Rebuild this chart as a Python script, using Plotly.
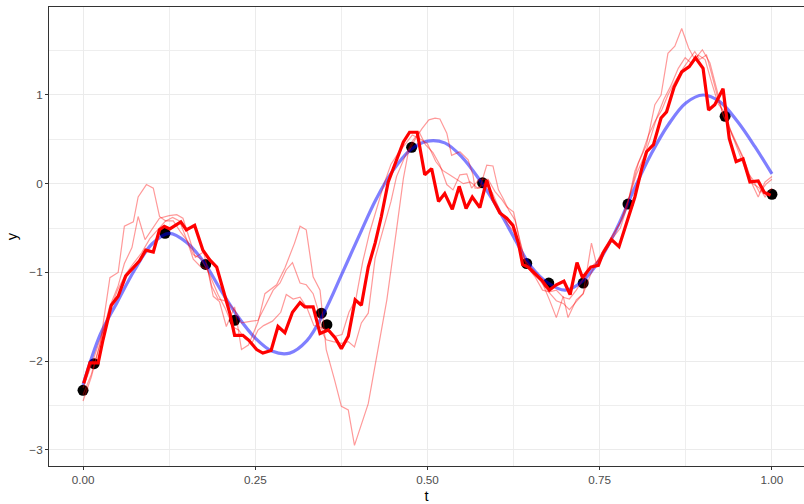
import plotly.graph_objects as go

# Underlying smooth function
t_true = [0.000, 0.025, 0.050, 0.075, 0.100, 0.125, 0.150, 0.175, 0.200, 0.225,
          0.250, 0.275, 0.300, 0.325, 0.350, 0.375, 0.400, 0.425, 0.450, 0.475,
          0.500, 0.525, 0.550, 0.575, 0.600, 0.625, 0.650, 0.675, 0.700, 0.725,
          0.750, 0.775, 0.800, 0.825, 0.850, 0.875, 0.900, 0.925, 0.950, 0.975, 1.000]
y_true = [-2.27, -1.70, -1.33, -0.97, -0.68, -0.56, -0.66, -0.88, -1.20, -1.50,
          -1.74, -1.89, -1.91, -1.77, -1.45, -1.03, -0.60, -0.18, 0.15, 0.38,
          0.48, 0.46, 0.30, 0.05, -0.25, -0.60, -0.93, -1.12, -1.20, -1.10,
          -0.86, -0.50, -0.06, 0.34, 0.67, 0.91, 1.00, 0.92, 0.70, 0.42, 0.11]

# Noisy observations
t_obs = [0.000, 0.016, 0.119, 0.178, 0.220, 0.346, 0.354, 0.477, 0.580, 0.644,
         0.676, 0.726, 0.791, 0.932, 1.000]
y_obs = [-2.33, -2.03, -0.56, -0.91, -1.54, -1.46, -1.59, 0.41, 0.01, -0.90,
         -1.12, -1.12, -0.23, 0.76, -0.12]

# Highlighted sample path
path_t = [0.001, 0.010, 0.022, 0.029, 0.041, 0.051, 0.062, 0.073, 0.082, 0.091,
          0.102, 0.111, 0.118, 0.126, 0.134, 0.142, 0.150, 0.162, 0.174, 0.184,
          0.194, 0.203, 0.213, 0.220, 0.232, 0.240, 0.252, 0.261, 0.273, 0.283,
          0.293, 0.304, 0.315, 0.322, 0.334, 0.344, 0.356, 0.366, 0.375, 0.385,
          0.395, 0.404, 0.414, 0.424, 0.433, 0.443, 0.453, 0.465, 0.474, 0.485,
          0.496, 0.506, 0.516, 0.525, 0.536, 0.546, 0.556, 0.565, 0.576, 0.586,
          0.595, 0.605, 0.615, 0.624, 0.632, 0.638, 0.646, 0.656, 0.666, 0.677,
          0.687, 0.698, 0.707, 0.717, 0.725, 0.737, 0.748, 0.755, 0.767, 0.778,
          0.789, 0.801, 0.811, 0.818, 0.828, 0.839, 0.847, 0.858, 0.869, 0.880,
          0.889, 0.900, 0.908, 0.917, 0.929, 0.938, 0.948, 0.958, 0.968, 0.980,
          0.989, 0.998]
path_y = [-2.25, -2.02, -2.02, -1.76, -1.37, -1.27, -1.04, -0.95, -0.87, -0.75,
          -0.77, -0.52, -0.48, -0.51, -0.47, -0.43, -0.52, -0.47, -0.75, -0.86,
          -0.94, -1.20, -1.46, -1.71, -1.71, -1.76, -1.87, -1.91, -1.88, -1.61,
          -1.68, -1.45, -1.34, -1.39, -1.39, -1.69, -1.65, -1.74, -1.86, -1.72,
          -1.31, -1.37, -0.94, -0.67, -0.37, 0.02, 0.23, 0.47, 0.58, 0.58,
          0.10, 0.17, -0.20, -0.11, -0.29, -0.03, -0.28, -0.15, -0.27, 0.04,
          -0.18, -0.33, -0.39, -0.47, -0.67, -0.91, -0.94, -1.01, -1.09, -1.20,
          -1.14, -1.10, -1.25, -0.89, -1.06, -0.94, -0.92, -0.78, -0.63, -0.71,
          -0.43, -0.15, 0.17, 0.36, 0.44, 0.74, 0.81, 1.09, 1.26, 1.32,
          1.42, 1.30, 0.83, 0.89, 1.07, 0.51, 0.25, 0.28, 0.02, 0.03,
          -0.10, -0.13]

# Additional sample paths
draw1_t = [0.000, 0.012, 0.025, 0.039, 0.051, 0.060, 0.073, 0.080, 0.092, 0.102,
           0.111, 0.120, 0.130, 0.140, 0.150, 0.160, 0.170, 0.181, 0.189, 0.198,
           0.208, 0.220, 0.230, 0.240, 0.254, 0.264, 0.281, 0.293, 0.307, 0.315,
           0.324, 0.334, 0.344, 0.353, 0.365, 0.375, 0.385, 0.394, 0.414, 0.424,
           0.441, 0.455, 0.465, 0.472, 0.482, 0.492, 0.502, 0.511, 0.518, 0.528,
           0.535, 0.547, 0.559, 0.566, 0.569, 0.576, 0.586, 0.595, 0.603, 0.610,
           0.618, 0.627, 0.634, 0.641, 0.651, 0.663, 0.677, 0.687, 0.697, 0.704,
           0.716, 0.726, 0.738, 0.745, 0.755, 0.765, 0.779, 0.791, 0.806, 0.818,
           0.830, 0.839, 0.849, 0.859, 0.869, 0.879, 0.888, 0.899, 0.910, 0.920,
           0.929, 0.939, 0.949, 0.958, 0.968, 0.980, 0.990, 1.000]
draw1_y = [-2.45, -2.18, -1.80, -1.06, -1.00, -0.48, -0.43, -0.15, -0.01, -0.05,
           -0.37, -0.42, -0.38, -0.42, -0.62, -0.85, -0.93, -0.97, -1.27, -1.33,
           -1.61, -1.39, -1.87, -1.82, -1.56, -1.24, -1.14, -0.95, -0.67, -0.48,
           -0.52, -1.05, -1.20, -1.87, -2.21, -2.51, -2.55, -2.95, -2.48, -2.06,
           -1.31, -0.52, 0.06, 0.35, 0.50, 0.62, 0.72, 0.74, 0.73, 0.57,
           0.32, 0.36, 0.27, 0.10, -0.05, -0.05, 0.21, 0.20, -0.07, -0.17,
           -0.30, -0.41, -0.63, -0.86, -0.95, -1.05, -1.31, -1.51, -1.27, -1.51,
           -1.31, -1.24, -0.67, -0.90, -0.75, -0.62, -0.45, -0.20, 0.23, 0.44,
           0.89, 1.00, 1.47, 1.55, 1.75, 1.53, 1.40, 1.51, 1.36, 1.06,
           0.77, 0.62, 0.46, 0.30, 0.05, -0.15, 0.02, 0.08]

draw2_t = [0.000, 0.012, 0.025, 0.038, 0.051, 0.060, 0.071, 0.080, 0.090, 0.102,
           0.111, 0.125, 0.136, 0.145, 0.155, 0.163, 0.175, 0.187, 0.196, 0.210,
           0.222, 0.230, 0.245, 0.254, 0.276, 0.286, 0.295, 0.304, 0.315, 0.324,
           0.334, 0.341, 0.348, 0.353, 0.363, 0.375, 0.385, 0.394, 0.404, 0.414,
           0.424, 0.436, 0.447, 0.455, 0.467, 0.479, 0.488, 0.497, 0.508, 0.518,
           0.528, 0.537, 0.547, 0.557, 0.564, 0.575, 0.588, 0.598, 0.608, 0.615,
           0.625, 0.634, 0.642, 0.652, 0.662, 0.677, 0.687, 0.697, 0.706, 0.716,
           0.726, 0.738, 0.748, 0.758, 0.768, 0.780, 0.790, 0.801, 0.812, 0.821,
           0.830, 0.840, 0.849, 0.859, 0.871, 0.878, 0.888, 0.895, 0.905, 0.912,
           0.922, 0.932, 0.942, 0.952, 0.962, 0.972, 0.982, 0.990, 1.000]
draw2_y = [-2.38, -2.15, -1.80, -1.40, -1.15, -0.90, -0.72, -0.37, -0.63, -0.50,
           -0.39, -0.36, -0.35, -0.39, -0.62, -0.83, -0.77, -1.16, -1.30, -1.33,
           -1.45, -1.57, -1.55, -1.54, -1.20, -1.12, -0.97, -0.89, -1.12, -1.14,
           -1.24, -1.42, -1.69, -1.76, -1.78, -1.80, -1.78, -1.84, -1.57, -1.46,
           -0.84, -0.52, -0.20, 0.08, 0.30, 0.49, 0.58, 0.44, 0.35, 0.21,
           -0.01, -0.07, 0.10, 0.11, -0.05, 0.05, 0.05, -0.09, -0.18, -0.26,
           -0.32, -0.65, -0.88, -1.00, -1.08, -1.23, -1.32, -1.35, -1.42, -1.33,
           -1.24, -1.00, -0.85, -0.72, -0.62, -0.50, -0.25, 0.14, 0.35, 0.55,
           0.70, 0.83, 1.00, 1.15, 1.30, 1.38, 1.49, 1.40, 1.45, 1.25,
           0.95, 0.72, 0.55, 0.38, 0.22, 0.00, -0.05, -0.15, -0.05]

draw3_t = [0.000, 0.012, 0.025, 0.038, 0.050, 0.062, 0.073, 0.085, 0.097, 0.110,
           0.120, 0.131, 0.142, 0.152, 0.160, 0.172, 0.185, 0.196, 0.206, 0.218,
           0.226, 0.235, 0.245, 0.254, 0.262, 0.275, 0.287, 0.295, 0.305, 0.315,
           0.325, 0.335, 0.345, 0.355, 0.366, 0.376, 0.386, 0.396, 0.406, 0.416,
           0.427, 0.437, 0.447, 0.458, 0.468, 0.478, 0.490, 0.500, 0.512, 0.522,
           0.532, 0.542, 0.552, 0.562, 0.573, 0.584, 0.594, 0.605, 0.616, 0.626,
           0.636, 0.646, 0.656, 0.667, 0.677, 0.687, 0.697, 0.706, 0.716, 0.728,
           0.740, 0.750, 0.760, 0.772, 0.782, 0.793, 0.803, 0.813, 0.823, 0.833,
           0.843, 0.853, 0.864, 0.874, 0.884, 0.893, 0.903, 0.912, 0.922, 0.932,
           0.942, 0.952, 0.962, 0.972, 0.982, 0.992, 1.000]
draw3_y = [-2.30, -2.05, -1.75, -1.45, -1.20, -1.02, -0.90, -0.78, -0.62, -0.50,
           -0.42, -0.42, -0.55, -0.65, -0.80, -0.85, -1.05, -1.25, -1.40, -1.62,
           -1.65, -1.75, -1.80, -1.65, -1.60, -1.55, -1.45, -1.25, -1.30, -1.28,
           -1.40, -1.60, -1.62, -1.65, -1.72, -1.70, -1.45, -1.30, -0.88, -0.55,
           -0.25, 0.00, 0.22, 0.35, 0.45, 0.55, 0.50, 0.45, 0.25, 0.15,
           0.10, 0.05, 0.00, 0.02, -0.05, 0.00, -0.10, -0.30, -0.45, -0.55,
           -0.80, -0.95, -1.05, -1.20, -1.22, -1.20, -1.28, -1.30, -1.20, -1.05,
           -0.92, -0.85, -0.70, -0.55, -0.40, -0.15, 0.10, 0.28, 0.50, 0.75,
           0.95, 1.10, 1.30, 1.42, 1.35, 1.45, 1.40, 1.15, 0.90, 0.80,
           0.55, 0.35, 0.15, 0.05, -0.10, 0.00, 0.05]

x_ticks = [0, 0.25, 0.5, 0.75, 1.0]
x_labels = ["0.00", "0.25", "0.50", "0.75", "1.00"]
y_ticks = [-3, -2, -1, 0, 1]
y_labels = ["\u22123", "\u22122", "\u22121", "0", "1"]

fig = go.Figure()

fig.add_trace(go.Scatter(x=t_obs, y=y_obs, mode="markers",
                         marker=dict(color="black", size=11), hoverinfo="skip"))
fig.add_trace(go.Scatter(x=t_true, y=y_true, mode="lines",
                         line=dict(color="rgba(0,0,255,0.5)", width=3.2,
                                   shape="spline", smoothing=1.0)))
for tt, yy in [(draw1_t, draw1_y), (draw2_t, draw2_y), (draw3_t, draw3_y)]:
    fig.add_trace(go.Scatter(x=tt, y=yy, mode="lines",
                             line=dict(color="rgba(255,0,0,0.4)", width=1.2)))
fig.add_trace(go.Scatter(x=path_t, y=path_y, mode="lines",
                         line=dict(color="red", width=3.2)))

axis_common = dict(
    showgrid=True, gridcolor="#EBEBEB", gridwidth=1.1,
    zeroline=False, showline=True, linecolor="#333333", linewidth=1,
    ticks="outside", ticklen=3, tickwidth=1, tickcolor="#333333",
    tickfont=dict(size=11.7, color="#4D4D4D"),
    automargin=False,
)

fig.update_layout(
    width=804, height=504,
    margin=dict(l=49, r=0, t=7, b=38),
    plot_bgcolor="white", paper_bgcolor="white",
    showlegend=False,
    font=dict(family="Liberation Sans, Arial, sans-serif", color="#4D4D4D"),
    xaxis=dict(axis_common, range=[-0.0494, 1.0465], mirror=True,
               tickvals=x_ticks, ticktext=x_labels,
               minor=dict(tickvals=[0.125, 0.375, 0.625, 0.875], showgrid=True,
                          gridcolor="#EEEEEE", gridwidth=0.7),
               title=dict(text="t", font=dict(size=14.7, color="black"), standoff=6)),
    yaxis=dict(axis_common, range=[-3.183, 1.992],
               tickvals=y_ticks, ticktext=y_labels,
               minor=dict(tickvals=[-2.5, -1.5, -0.5, 0.5, 1.5], showgrid=True,
                          gridcolor="#EEEEEE", gridwidth=0.7),
               title=dict(text="y", font=dict(size=14.7, color="black"), standoff=8)),
)

fig.write_html("out.html")
